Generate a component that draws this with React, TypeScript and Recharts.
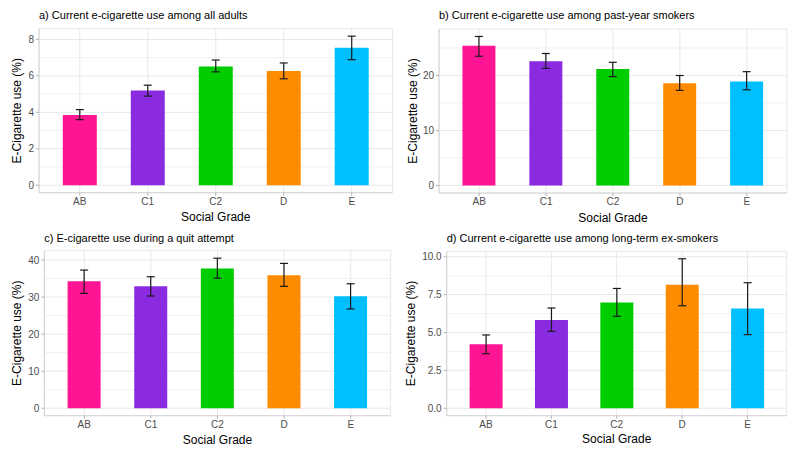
import React from 'react';
import { BarChart, Bar, XAxis, YAxis, CartesianGrid, ErrorBar, Cell } from 'recharts';

const categories = ['AB', 'C1', 'C2', 'D', 'E'];
const gradeColors = ['#FF1493', '#8A2BE2', '#00CD00', '#FF8C00', '#00BFFF'];

// a) all adults
const aValues = [3.85, 5.2, 6.51, 6.27, 7.55];
const aLower = [3.6, 4.89, 6.22, 5.84, 6.89];
const aUpper = [4.15, 5.49, 6.87, 6.71, 8.18];
const aTicks = [0, 2, 4, 6, 8];
const aMinor = [1, 3, 5, 7];

// b) past-year smokers
const bValues = [25.4, 22.6, 21.2, 18.6, 18.9];
const bLower = [23.5, 21.3, 19.8, 17.3, 17.4];
const bUpper = [27.1, 24.0, 22.4, 20.0, 20.7];
const bTicks = [0, 10, 20];
const bMinor = [5, 15, 25];

// c) quit attempt
const cValues = [34.3, 32.9, 37.7, 35.9, 30.2];
const cLower = [31.0, 30.3, 35.1, 32.9, 26.8];
const cUpper = [37.3, 35.5, 40.5, 39.1, 33.6];
const cTicks = [0, 10, 20, 30, 40];
const cMinor = [5, 15, 25, 35];

// d) long-term ex-smokers
const dValues = [4.22, 5.82, 6.99, 8.15, 6.59];
const dLower = [3.6, 5.08, 6.07, 6.77, 4.86];
const dUpper = [4.84, 6.62, 7.91, 9.87, 8.29];
const dTicks = [0, 2.5, 5, 7.5, 10];
const dMinor = [1.25, 3.75, 6.25, 8.75];

const titles = [
  'a) Current e-cigarette use among all adults',
  'b) Current e-cigarette use among past-year smokers',
  'c) E-cigarette use during a quit attempt',
  'd) Current e-cigarette use among long-term ex-smokers',
];

const FONT = '"Liberation Sans", Arial, sans-serif';

function buildRows(values: number[], lower: number[], upper: number[]) {
  return categories.map((c, i) => ({
    grade: c,
    value: values[i],
    err: [values[i] - lower[i], upper[i] - values[i]],
    upper: upper[i],
  }));
}

type Geo = {
  x: number; y: number; w: number; h: number;
  left: number; top: number; right: number; bottom: number;
  titleY: number; yLabelX: number; xLabelOffset: number;
};

function Panel(props: {
  title: string;
  rows: any[];
  ticks: number[];
  minor: number[];
  fmt: (v: number) => string;
  geo: Geo;
}) {
  const { title, rows, ticks, minor, fmt, geo } = props;
  const maxUpper = Math.max(...rows.map((r) => r.upper));
  const domain = [-0.05 * maxUpper, 1.05 * maxUpper];
  const plotW = geo.right - geo.left;
  const pad = plotW / 52;
  const border = '#d4d4d4';
  const minorGen = (args: any) => {
    const yAxis = args && args.yAxis;
    if (yAxis && typeof yAxis.scale === 'function') {
      return minor.map((m) => yAxis.scale(m));
    }
    const off = args && args.offset;
    if (off && typeof off.top === 'number' && typeof off.height === 'number') {
      return minor.map((m) => off.top + ((domain[1] - m) / (domain[1] - domain[0])) * off.height);
    }
    return [];
  };
  return (
    <div style={{ position: 'absolute', left: geo.x, top: geo.y, width: geo.w, height: geo.h }}>
      <div
        style={{
          position: 'absolute',
          left: geo.left,
          top: geo.titleY - 7,
          lineHeight: '14px',
          fontSize: 11,
          fontFamily: FONT,
          color: '#000',
          whiteSpace: 'nowrap',
        }}
      >
        {title}
      </div>
      <BarChart
        width={geo.w}
        height={geo.h}
        data={rows}
        margin={{ top: geo.top, right: geo.w - geo.right, left: 0, bottom: 0 }}
        barCategoryGap="25%"
        style={{ fontFamily: FONT }}
      >
        <CartesianGrid
          stroke="#f1f1f1"
          strokeWidth={1}
          vertical={false}
          horizontalCoordinatesGenerator={minorGen}
        />
        <CartesianGrid stroke="#e8e8e8" strokeWidth={1} />
        <XAxis
          dataKey="grade"
          height={geo.h - geo.bottom}
          padding={{ left: pad, right: pad }}
          tick={{ fill: '#4d4d4d', fontSize: 10, fontFamily: FONT }}
          tickSize={3}
          tickMargin={2}
          axisLine={{ stroke: border }}
          tickLine={{ stroke: '#b3b3b3' }}
          label={{
            value: 'Social Grade',
            position: 'insideBottom',
            offset: geo.xLabelOffset,
            fill: '#000',
            fontSize: 12,
            fontFamily: FONT,
          }}
        />
        <XAxis
          xAxisId="top"
          orientation="top"
          dataKey="grade"
          height={0}
          tick={false}
          tickLine={false}
          axisLine={{ stroke: border }}
        />
        <YAxis
          type="number"
          width={geo.left}
          domain={domain}
          ticks={ticks}
          allowDataOverflow
          tickFormatter={fmt}
          tick={{ fill: '#4d4d4d', fontSize: 10, fontFamily: FONT }}
          tickSize={3}
          tickMargin={2}
          axisLine={{ stroke: border }}
          tickLine={{ stroke: '#b3b3b3' }}
          label={{
            value: 'E-Cigarette use (%)',
            angle: -90,
            position: 'insideLeft',
            offset: geo.yLabelX,
            fill: '#000',
            fontSize: 12,
            fontFamily: FONT,
            style: { textAnchor: 'middle' },
          }}
        />
        <YAxis
          yAxisId="right"
          orientation="right"
          width={0}
          tick={false}
          tickLine={false}
          axisLine={{ stroke: border }}
        />
        <Bar dataKey="value" isAnimationActive={false}>
          {rows.map((r, i) => (
            <Cell key={r.grade} fill={gradeColors[i]} />
          ))}
          <ErrorBar dataKey="err" width={4} stroke="#1a1a1a" strokeWidth={1.2} isAnimationActive={false} />
        </Bar>
      </BarChart>
    </div>
  );
}

const intFmt = (v: number) => String(v);
const oneDec = (v: number) => v.toFixed(1);

export default function App() {
  return (
    <div
      style={{
        position: 'absolute',
        left: 0,
        top: 0,
        width: 800,
        height: 457,
        background: '#fff',
        overflow: 'hidden',
      }}
    >
      <Panel
        title={titles[0]}
        rows={buildRows(aValues, aLower, aUpper)}
        ticks={aTicks}
        minor={aMinor}
        fmt={intFmt}
        geo={{ x: 0, y: 0, w: 400, h: 228, left: 39, top: 28.7, right: 392.5, bottom: 192.7, titleY: 15, yLabelX: 16.7, xLabelOffset: 7 }}
      />
      <Panel
        title={titles[1]}
        rows={buildRows(bValues, bLower, bUpper)}
        ticks={bTicks}
        minor={bMinor}
        fmt={intFmt}
        geo={{ x: 400, y: 0, w: 400, h: 228, left: 39, top: 29, right: 387, bottom: 193, titleY: 15, yLabelX: 12.7, xLabelOffset: 6.4 }}
      />
      <Panel
        title={titles[2]}
        rows={buildRows(cValues, cLower, cUpper)}
        ticks={cTicks}
        minor={cMinor}
        fmt={intFmt}
        geo={{ x: 0, y: 228, w: 400, h: 229, left: 44.3, top: 22.7, right: 390.7, bottom: 187.7, titleY: 10, yLabelX: 16.7, xLabelOffset: 13 }}
      />
      <Panel
        title={titles[3]}
        rows={buildRows(dValues, dLower, dUpper)}
        ticks={dTicks}
        minor={dMinor}
        fmt={oneDec}
        geo={{ x: 400, y: 228, w: 400, h: 229, left: 46.7, top: 23.3, right: 386.7, bottom: 187.7, titleY: 10, yLabelX: 10.5, xLabelOffset: 13.7 }}
      />
    </div>
  );
}
